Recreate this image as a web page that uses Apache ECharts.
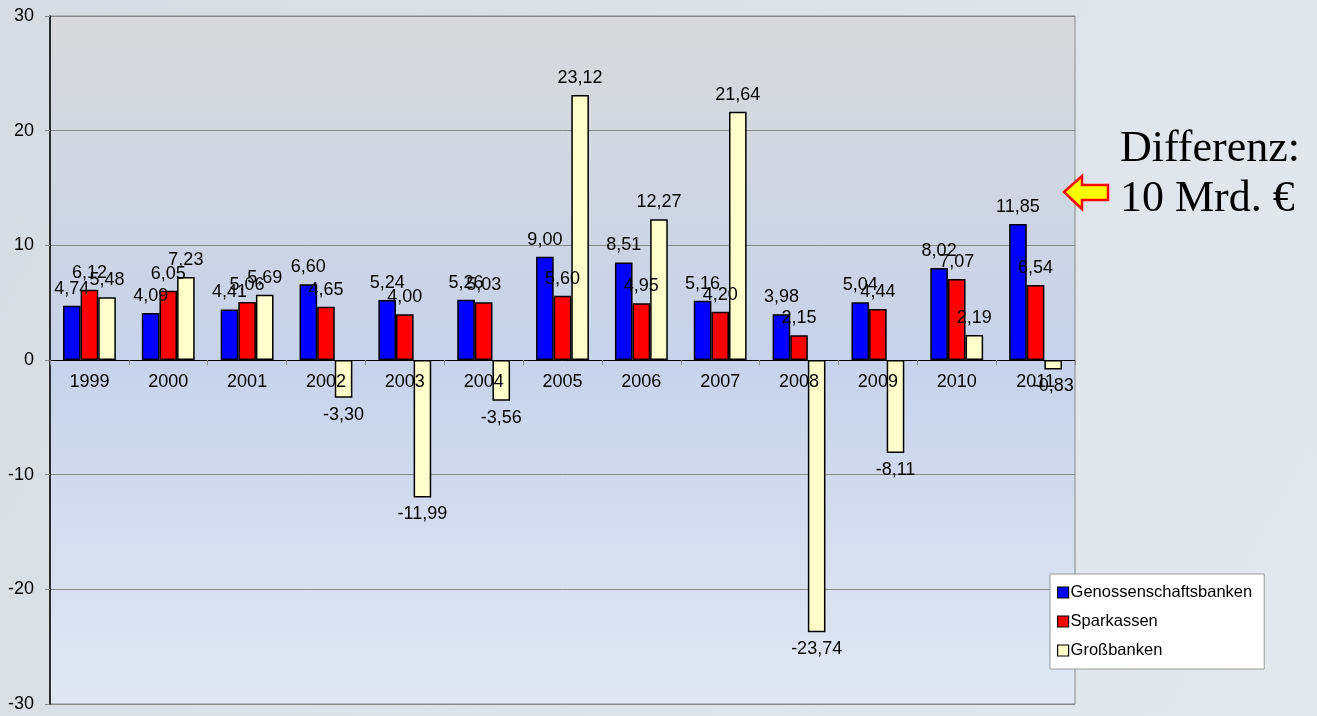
<!DOCTYPE html>
<html><head><meta charset="utf-8">
<script src="https://cdn.jsdelivr.net/npm/echarts@6/dist/echarts.min.js"></script>
<style>html,body{margin:0;padding:0;}#c{width:1317px;height:716px;}</style>
</head><body><div id="c"></div>
<script>
const categories = ['1999','2000','2001','2002','2003','2004','2005','2006','2007','2008','2009','2010','2011'];
const genossenschaftsbanken = [4.74,4.09,4.41,6.60,5.24,5.26,9.00,8.51,5.16,3.98,5.04,8.02,11.85];
const sparkassen = [6.12,6.05,5.06,4.65,4.00,5.03,5.60,4.95,4.20,2.15,4.44,7.07,6.54];
const grossbanken = [5.48,7.23,5.69,-3.30,-11.99,-3.56,23.12,12.27,21.64,-23.74,-8.11,2.19,-0.83];
const yTicks = [-30,-20,-10,0,10,20,30];

const fmt = v => v.toFixed(2).replace('.', ',');
const mk = arr => arr.map(v => ({value: v, label: {position: v < 0 ? 'bottom' : 'top'}}));

const chart = echarts.init(document.getElementById('c'));
const labelStyle = {show: true, formatter: p => fmt(p.value), fontFamily: 'Liberation Sans', fontSize: 18, color: '#000', distance: 8};
function ser(name, data, color) {
  return {name, type: 'bar', data: mk(data), barGap: '0%', barCategoryGap: '33%', z: 2,
    itemStyle: {color, borderColor: '#000', borderWidth: 1.5}, label: labelStyle};
}
chart.setOption({
  backgroundColor: {type: 'linear', x: 0, y: 0, x2: 1, y2: 1, colorStops: [{offset: 0, color: '#d6dce3'}, {offset: 1, color: '#e4e9ef'}]},
  animation: false,
  grid: {left: 50, right: 242, top: 16, bottom: 12, containLabel: false, outerBoundsMode: 'none', show: true, borderColor: '#888', borderWidth: 1,
    backgroundColor: {type: 'linear', x: 0, y: 0, x2: 0, y2: 1, colorStops: [{offset: 0, color: '#d9d9db'}, {offset: 0.5, color: '#c6d3ea'}, {offset: 1, color: '#e1e8f4'}]}},
  legend: {orient: 'vertical', left: 1050, top: 574, width: 215, itemWidth: 11, itemHeight: 11, itemGap: 12,
    padding: [10, 12, 10, 7], backgroundColor: '#fff', borderColor: '#999', borderWidth: 1, icon: 'rect',
    itemStyle: {borderColor: '#000', borderWidth: 1.2},
    textStyle: {fontFamily: 'Liberation Sans', fontSize: 16.5, color: '#000', padding: [0, 0, 0, -3]},
    data: ['Genossenschaftsbanken', 'Sparkassen', 'Großbanken']},
  xAxis: {type: 'category', data: categories, offset: -344, z: 5,
    axisLine: {onZero: false, lineStyle: {color: '#000', width: 1}},
    axisTick: {show: true, lineStyle: {color: '#888'}, length: 5},
    axisLabel: {fontFamily: 'Liberation Sans', fontSize: 18, color: '#000', margin: 13}},
  yAxis: {type: 'value', min: yTicks[0], max: yTicks[yTicks.length - 1], interval: 10,
    axisLine: {show: true, lineStyle: {color: '#000', width: 1.5}},
    axisTick: {show: true, length: 5, lineStyle: {color: '#888'}},
    splitLine: {lineStyle: {color: '#888', width: 1}},
    axisLabel: {fontFamily: 'Liberation Sans', fontSize: 18, color: '#000', margin: 16}},
  series: [ser('Genossenschaftsbanken', genossenschaftsbanken, '#0000ff'),
           ser('Sparkassen', sparkassen, '#ff0000'),
           ser('Großbanken', grossbanken, '#ffffcc')],
  graphic: [
    {type: 'polygon', shape: {points: [[1064,192],[1082,176],[1082,185],[1108,185],[1108,200],[1082,200],[1082,209]]},
     style: {fill: '#ffff00', stroke: '#ff0000', lineWidth: 2.5}},
    {type: 'text', left: 1120, top: 124, style: {text: 'Differenz:\n10 Mrd. €', font: '44px "Liberation Serif"', fill: '#000', lineHeight: 50}}
  ]
});
</script></body></html>
